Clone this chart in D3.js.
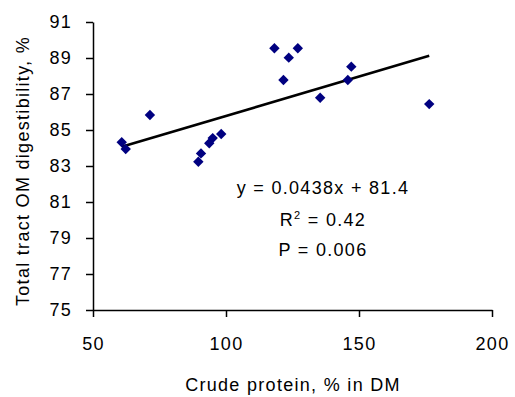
<!DOCTYPE html>
<html>
<head>
<meta charset="utf-8">
<script src="https://cdn.jsdelivr.net/npm/d3@7"></script>
<style>
  html, body { margin: 0; padding: 0; background: #fff; }
  svg text { font-family: "Liberation Sans", Arial, sans-serif; fill: #000; }
</style>
</head>
<body>
<svg id="chart" width="515" height="397"></svg>
<script>
// Data
const crudeProtein = [60.8, 62.3, 71.4, 89.6, 90.6, 93.7, 95.0, 98.2, 118.2, 121.6, 123.6, 127.0, 135.4, 145.8, 147.1, 176.4];
const omDigestibility = [84.32, 83.94, 85.83, 83.24, 83.70, 84.26, 84.55, 84.78, 89.54, 87.78, 89.02, 89.54, 86.79, 87.78, 88.52, 86.44];
const fitSlope = 0.0438;
const fitIntercept = 81.4;
const xTicks = [50, 100, 150, 200];
const yTicks = [75, 77, 79, 81, 83, 85, 87, 89, 91];
const annotation = ["y = 0.0438x + 81.4", "R2 = 0.42", "P = 0.006"];
const xTitle = "Crude protein, % in DM";
const yTitle = "Total tract OM digestibility, %";

(function () {
const svg = d3.select("#chart");
const mL = 93, mR = 492, mT = 22, mB = 310;

const x = d3.scaleLinear().domain([50, 200]).range([mL, mR]);
const y = d3.scaleLinear().domain([75, 91]).range([mB, mT]);

const fs = "18px", ls = "1.3px";

// Axes
const xAxis = svg.append("g").attr("transform", `translate(0,${mB})`)
  .call(d3.axisBottom(x).tickValues(xTicks).tickSize(7).tickPadding(20).tickSizeOuter(0));
const yAxis = svg.append("g").attr("transform", `translate(${mL},0)`)
  .call(d3.axisLeft(y).tickValues(yTicks).tickSize(7).tickPadding(14).tickSizeOuter(0));
[xAxis, yAxis].forEach(g => {
  g.select(".domain").attr("stroke", "#000").attr("stroke-width", 1.5);
  g.selectAll(".tick line").attr("stroke", "#000").attr("stroke-width", 1.5);
  g.selectAll(".tick text").attr("font-size", fs).attr("letter-spacing", ls)
    .attr("font-family", "Liberation Sans, Arial, sans-serif").attr("fill", "#000");
});

// Regression line across data range
const xmin = d3.min(crudeProtein), xmax = d3.max(crudeProtein);
svg.append("line")
  .attr("x1", x(xmin)).attr("y1", y(fitSlope * xmin + fitIntercept))
  .attr("x2", x(xmax)).attr("y2", y(fitSlope * xmax + fitIntercept))
  .attr("stroke", "#000").attr("stroke-width", 2.6);

// Points (diamonds)
const pts = crudeProtein.map((v, i) => [v, omDigestibility[i]]);
svg.append("g").selectAll("path").data(pts).join("path")
  .attr("d", d => {
    const cx = x(d[0]), cy = y(d[1]), r = 5.2;
    return `M${cx},${cy - r}L${cx + r},${cy}L${cx},${cy + r}L${cx - r},${cy}Z`;
  })
  .attr("fill", "#000080");

// Annotation
const ax = 323;
svg.append("text").attr("x", ax).attr("y", 194).attr("text-anchor", "middle")
  .attr("font-size", fs).attr("letter-spacing", ls).text(annotation[0]);
const r2 = svg.append("text").attr("x", ax).attr("y", 226).attr("text-anchor", "middle")
  .attr("font-size", fs).attr("letter-spacing", ls);
r2.append("tspan").text("R");
r2.append("tspan").attr("font-size", "11px").attr("dy", -7).text("2");
r2.append("tspan").attr("dy", 7).text(" = 0.42");
svg.append("text").attr("x", ax).attr("y", 256).attr("text-anchor", "middle")
  .attr("font-size", fs).attr("letter-spacing", ls).text(annotation[2]);

// Axis titles
svg.append("text").attr("x", 293).attr("y", 391).attr("text-anchor", "middle")
  .attr("font-size", fs).attr("letter-spacing", ls).text(xTitle);
svg.append("text").attr("transform", `translate(29,${(mT + mB) / 2 + 5}) rotate(-90)`)
  .attr("text-anchor", "middle")
  .attr("font-size", fs).attr("letter-spacing", ls).text(yTitle);
})();
</script>
</body>
</html>
